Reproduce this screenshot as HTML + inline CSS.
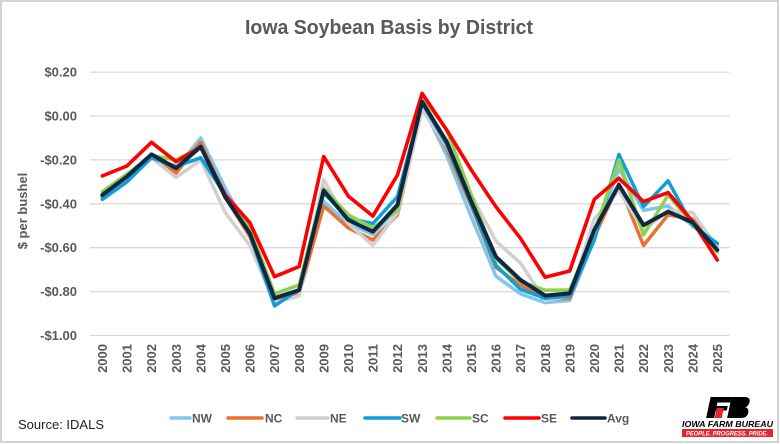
<!DOCTYPE html>
<html>
<head>
<meta charset="utf-8">
<style>
  html,body{margin:0;padding:0;background:#fff;}
  svg{display:block;}
  text{font-family:"Liberation Sans",Arial,sans-serif;}
</style>
</head>
<body>
<svg width="780" height="444" viewBox="0 0 780 444" xmlns="http://www.w3.org/2000/svg">
  <rect x="0" y="0" width="780" height="444" fill="#fff"/>
  <rect x="1" y="1" width="777" height="441" fill="none" stroke="#d4d4d4" stroke-width="2"/>

  <!-- Title -->
  <text x="389" y="34" text-anchor="middle" font-size="20" font-weight="bold" fill="#595959" textLength="288" lengthAdjust="spacingAndGlyphs">Iowa Soybean Basis by District</text>

  <!-- Gridlines -->
  <g stroke="#d9d9d9" stroke-width="1.3">
    <line x1="90" y1="72.1" x2="729.5" y2="72.1"/>
    <line x1="90" y1="116" x2="729.5" y2="116"/>
    <line x1="90" y1="159.9" x2="729.5" y2="159.9"/>
    <line x1="90" y1="203.8" x2="729.5" y2="203.8"/>
    <line x1="90" y1="247.7" x2="729.5" y2="247.7"/>
    <line x1="90" y1="291.6" x2="729.5" y2="291.6"/>
    <line x1="90" y1="335.5" x2="729.5" y2="335.5"/>
  </g>

  <!-- Y labels -->
  <g font-size="13" font-weight="bold" fill="#595959" text-anchor="end">
    <text x="77" y="76.6">$0.20</text>
    <text x="77" y="120.5">$0.00</text>
    <text x="77" y="164.4">-$0.20</text>
    <text x="77" y="208.3">-$0.40</text>
    <text x="77" y="252.2">-$0.60</text>
    <text x="77" y="296.1">-$0.80</text>
    <text x="77" y="340">-$1.00</text>
  </g>
  <text transform="translate(27,211) rotate(-90)" text-anchor="middle" font-size="13" font-weight="bold" fill="#595959">$ per bushel</text>

  <!-- X labels -->
  <g font-size="13" font-weight="bold" fill="#595959" text-anchor="end">
    <text transform="translate(107,344) rotate(-90)">2000</text>
    <text transform="translate(131.6,344) rotate(-90)">2001</text>
    <text transform="translate(156.2,344) rotate(-90)">2002</text>
    <text transform="translate(180.8,344) rotate(-90)">2003</text>
    <text transform="translate(205.4,344) rotate(-90)">2004</text>
    <text transform="translate(230,344) rotate(-90)">2005</text>
    <text transform="translate(254.6,344) rotate(-90)">2006</text>
    <text transform="translate(279.2,344) rotate(-90)">2007</text>
    <text transform="translate(303.8,344) rotate(-90)">2008</text>
    <text transform="translate(328.4,344) rotate(-90)">2009</text>
    <text transform="translate(353,344) rotate(-90)">2010</text>
    <text transform="translate(377.6,344) rotate(-90)">2011</text>
    <text transform="translate(402.2,344) rotate(-90)">2012</text>
    <text transform="translate(426.8,344) rotate(-90)">2013</text>
    <text transform="translate(451.4,344) rotate(-90)">2014</text>
    <text transform="translate(476,344) rotate(-90)">2015</text>
    <text transform="translate(500.6,344) rotate(-90)">2016</text>
    <text transform="translate(525.2,344) rotate(-90)">2017</text>
    <text transform="translate(549.8,344) rotate(-90)">2018</text>
    <text transform="translate(574.4,344) rotate(-90)">2019</text>
    <text transform="translate(599,344) rotate(-90)">2020</text>
    <text transform="translate(623.6,344) rotate(-90)">2021</text>
    <text transform="translate(648.2,344) rotate(-90)">2022</text>
    <text transform="translate(672.8,344) rotate(-90)">2023</text>
    <text transform="translate(697.4,344) rotate(-90)">2024</text>
    <text transform="translate(722,344) rotate(-90)">2025</text>
  </g>

  <!-- Series -->
  <g fill="none" stroke-linejoin="round" stroke-linecap="round">
    <!-- NW -->
    <polyline stroke="#7ec8ee" stroke-width="3.5" points="102.3,197.2 126.9,179.7 151.5,155.5 176.1,168.7 200.7,138.0 225.3,188.4 249.9,232.3 274.5,302.6 299.1,291.6 323.7,201.6 348.3,223.6 372.9,234.5 397.5,208.2 422.1,105.0 446.7,155.5 471.3,217.0 495.9,276.2 520.5,293.8 545.1,302.6 569.7,300.4 594.3,238.9 618.9,168.7 643.5,210.4 668.1,206.0 692.7,225.8 717.3,245.5"/>
    <!-- NC -->
    <polyline stroke="#e97132" stroke-width="3.5" points="102.3,197.2 126.9,179.7 151.5,155.5 176.1,173.1 200.7,142.3 225.3,197.2 249.9,236.7 274.5,300.4 299.1,293.8 323.7,206.0 348.3,227.9 372.9,240.0 397.5,214.8 422.1,107.2 446.7,148.9 471.3,206.0 495.9,267.5 520.5,285.0 545.1,299.3 569.7,298.2 594.3,236.7 618.9,184.0 643.5,245.5 668.1,214.8 692.7,219.2 717.3,247.7"/>
    <!-- NE -->
    <polyline stroke="#d0d0d0" stroke-width="3.5" points="102.3,195.0 126.9,177.5 151.5,157.7 176.1,177.5 200.7,159.9 225.3,212.6 249.9,245.5 274.5,302.6 299.1,296.0 323.7,179.7 348.3,223.6 372.9,245.5 397.5,212.6 422.1,109.4 446.7,146.7 471.3,195.0 495.9,241.1 520.5,263.1 545.1,300.4 569.7,296.0 594.3,219.2 618.9,190.6 643.5,230.1 668.1,210.4 692.7,212.6 717.3,247.7"/>
    <!-- SW -->
    <polyline stroke="#0f9ed5" stroke-width="3.5" points="102.3,199.4 126.9,181.9 151.5,157.7 176.1,166.5 200.7,157.7 225.3,195.0 249.9,234.5 274.5,305.9 299.1,289.4 323.7,192.8 348.3,218.1 372.9,223.6 397.5,196.6 422.1,102.8 446.7,144.5 471.3,203.8 495.9,265.3 520.5,289.4 545.1,298.2 569.7,296.0 594.3,240.0 618.9,154.4 643.5,206.7 668.1,180.8 692.7,225.8 717.3,243.3"/>
    <!-- SC -->
    <polyline stroke="#8ed14f" stroke-width="3.5" points="102.3,191.7 126.9,174.2 151.5,155.5 176.1,159.9 200.7,146.7 225.3,195.0 249.9,227.9 274.5,293.8 299.1,285.0 323.7,188.4 348.3,214.8 372.9,227.9 397.5,210.4 422.1,96.2 446.7,130.0 471.3,195.0 495.9,258.7 520.5,281.7 545.1,290.1 569.7,290.1 594.3,232.3 618.9,159.9 643.5,235.0 668.1,195.0 692.7,223.6 717.3,252.1"/>
    <!-- SE -->
    <polyline stroke="#ff0000" stroke-width="3.6" points="102.3,175.9 126.9,166.0 151.5,142.3 176.1,161.7 200.7,146.7 225.3,195.0 249.9,222.7 274.5,276.7 299.1,266.6 323.7,156.6 348.3,196.1 372.9,216.1 397.5,175.0 422.1,93.4 446.7,130.0 471.3,170.0 495.9,206.7 520.5,238.3 545.1,277.3 569.7,271.0 594.3,199.4 618.9,178.3 643.5,201.6 668.1,192.6 692.7,221.6 717.3,260.0"/>
    <!-- Avg -->
    <polyline stroke="#0e2841" stroke-width="4" points="102.3,195.0 126.9,176.6 151.5,154.4 176.1,168.2 200.7,146.7 225.3,197.2 249.9,233.4 274.5,298.2 299.1,290.1 323.7,190.6 348.3,220.0 372.9,231.7 397.5,204.9 422.1,101.7 446.7,141.7 471.3,201.6 495.9,256.7 520.5,280.0 545.1,295.6 569.7,293.4 594.3,229.9 618.9,184.9 643.5,225.1 668.1,211.7 692.7,222.5 717.3,249.9"/>
  </g>

  <!-- Legend -->
  <g stroke-width="3.5" stroke-linecap="round">
    <line x1="171" y1="418" x2="190" y2="418" stroke="#7ec8ee"/>
    <line x1="228" y1="418" x2="262" y2="418" stroke="#e97132"/>
    <line x1="297" y1="418" x2="328" y2="418" stroke="#d0d0d0"/>
    <line x1="365" y1="418" x2="400" y2="418" stroke="#0f9ed5"/>
    <line x1="437" y1="418" x2="470" y2="418" stroke="#8ed14f"/>
    <line x1="505" y1="418" x2="539" y2="418" stroke="#ff0000"/>
    <line x1="572" y1="418" x2="605" y2="418" stroke="#0e2841"/>
  </g>
  <g font-size="12" font-weight="bold" fill="#595959">
    <text x="192" y="422.5">NW</text>
    <text x="265" y="422.5">NC</text>
    <text x="330" y="422.5">NE</text>
    <text x="401" y="422.5">SW</text>
    <text x="472" y="422.5">SC</text>
    <text x="541" y="422.5">SE</text>
    <text x="607" y="422.5">Avg</text>
  </g>

  <!-- Source -->
  <text x="18" y="429" font-size="13" fill="#222">Source: IDALS</text>

  <!-- Logo -->
  <g>
    <g transform="skewX(-12)" fill="#000">
      <!-- F -->
      <polygon points="795,397 816,397 816,402.5 803,402.5 803,406 814,406 814,410.5 803,410.5 803,418 795,418"/>
      <!-- B -->
      <path d="M816,397 L829,397 Q835,397 835,402 Q835,406 832,407.3 Q836,408.5 836,412.5 Q836,418 830,418 L816,418 Z"/>
    </g>
    <g transform="skewX(-12)">
      <rect x="803.5" y="408" width="7" height="10" fill="#e8232a"/>
    </g>
    <text x="682" y="427" font-size="8.5" font-weight="bold" font-style="italic" fill="#000" textLength="91" lengthAdjust="spacingAndGlyphs">IOWA FARM BUREAU</text>
    <rect x="682" y="429" width="91" height="8" fill="#e8232a"/>
    <text x="686" y="435.3" font-size="6" font-weight="bold" font-style="italic" fill="#fff" textLength="82" lengthAdjust="spacingAndGlyphs">PEOPLE. PROGRESS. PRIDE.</text>
  </g>
</svg>
</body>
</html>
